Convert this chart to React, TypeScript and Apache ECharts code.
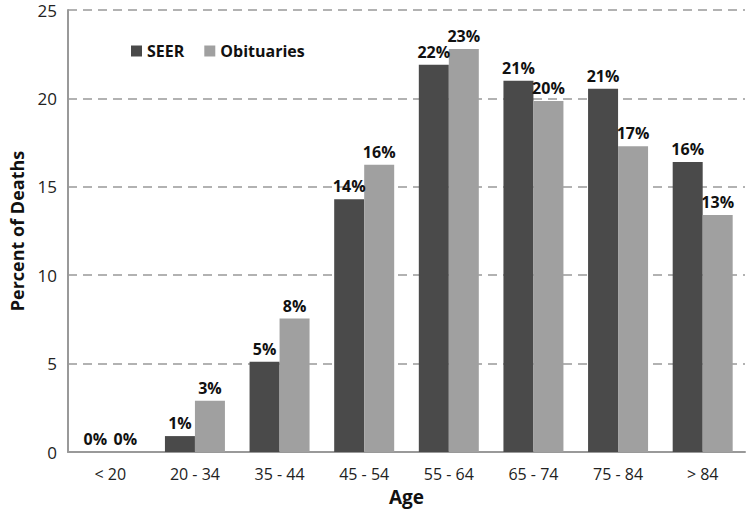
import React, { useEffect, useRef } from "react";
import * as echarts from "echarts";

const categories = ["< 20", "20 - 34", "35 - 44", "45 - 54", "55 - 64", "65 - 74", "75 - 84", "> 84"];
const seerValues = [0, 0.9, 5.1, 14.3, 21.9, 21.0, 20.55, 16.4];
const obituaryValues = [0, 2.9, 7.55, 16.25, 22.8, 19.85, 17.3, 13.4];
const yTicks = { min: 0, max: 25, interval: 5 };

const FONT = "'Open Sans', 'Noto Sans', sans-serif";

export default function App() {
  const ref = useRef<HTMLDivElement>(null);
  useEffect(() => {
    document.body.style.margin = "0";
    const chart = echarts.init(ref.current!, undefined, { renderer: "svg" });
    const labelStyle = {
      show: true,
      position: "top" as const,
      distance: 5,
      fontFamily: FONT,
      fontWeight: "bold" as const,
      fontSize: 16,
      color: "#111",
      formatter: (p: any) => Math.round(p.value) + "%",
    };
    chart.setOption({
      animation: false,
      textStyle: { fontFamily: FONT },
      grid: { left: 66, right: 5, top: 10, bottom: 61, containLabel: false },
      legend: {
        left: 126,
        top: 38,
        itemWidth: 11,
        itemHeight: 11,
        itemGap: 20,
        icon: "rect",
        textStyle: { fontFamily: FONT, fontWeight: "bold", fontSize: 16, color: "#111" },
        data: ["SEER", "Obituaries"],
      },
      xAxis: {
        type: "category",
        data: categories,
        name: "Age",
        nameLocation: "middle",
        nameGap: 35,
        nameTextStyle: { fontFamily: FONT, fontWeight: "bold", fontSize: 19, color: "#111" },
        axisLine: { lineStyle: { color: "#999", width: 2 } },
        axisTick: { show: false },
        axisLabel: { fontFamily: FONT, fontSize: 16, color: "#222", margin: 14 },
      },
      yAxis: {
        type: "value",
        min: yTicks.min,
        max: yTicks.max,
        interval: yTicks.interval,
        name: "Percent of Deaths",
        nameLocation: "middle",
        nameGap: 42,
        nameTextStyle: { fontFamily: FONT, fontWeight: "bold", fontSize: 18, color: "#111" },
        axisLine: { show: true, lineStyle: { color: "#999", width: 2 } },
        axisTick: { show: false },
        axisLabel: { fontFamily: FONT, fontSize: 17, color: "#222", margin: 11 },
        splitLine: { lineStyle: { color: "#999", type: [9, 6], width: 1.5 } },
      },
      series: [
        {
          name: "SEER",
          type: "bar",
          data: seerValues,
          barWidth: 30,
          barGap: "0%",
          itemStyle: { color: "#4a4a4a" },
          label: labelStyle,
        },
        {
          name: "Obituaries",
          type: "bar",
          data: obituaryValues,
          barWidth: 30,
          barGap: "0%",
          itemStyle: { color: "#a0a0a0" },
          label: labelStyle,
        },
      ],
    });
    return () => chart.dispose();
  }, []);
  return <div ref={ref} style={{ width: 750, height: 513 }} />;
}
